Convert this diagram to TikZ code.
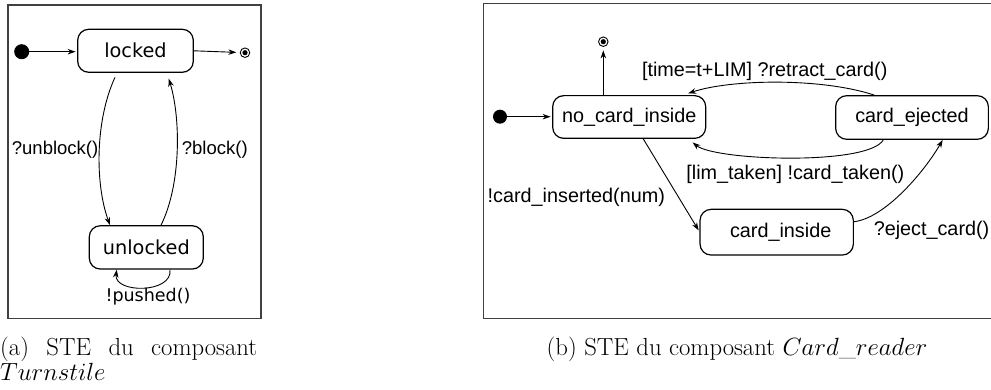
\documentclass[tikz,border=0pt]{standalone}
\usepackage{fontspec}
\newfontfamily\lib{Liberation Sans}
\newfontfamily\dvs{DejaVu Sans}
\usetikzlibrary{arrows.meta}
\begin{document}
\begin{tikzpicture}[x=1pt,y=-1pt,
  state/.style={draw, line width=1.2pt, rounded corners=11pt, inner sep=0pt},
  lstate/.style={state, font=\dvs\fontsize{19.3}{22}\selectfont},
  rstate/.style={state, font=\lib\fontsize{19.8}{22}\selectfont},
  lbl/.style={font=\lib\fontsize{19.8}{22}\selectfont, inner sep=0pt},
  llbl/.style={font=\lib\fontsize{18.5}{22}\selectfont, inner sep=0pt},
  trans/.style={line width=0.9pt, -{Stealth[length=8pt,width=5.5pt]}},
  panel/.style={draw=black!75, line width=1.3pt},
  initdot/.style={circle, fill=black, inner sep=0pt},
  finalst/.style={circle, draw, line width=0.9pt, minimum size=9.5pt, inner sep=0pt,
    path picture={\fill (path picture bounding box.center) circle (2.6pt);}},
  capt/.style={font=\fontsize{24.7}{25.5}\selectfont, inner sep=0pt}
]
\useasboundingbox (0,0) rectangle (991,390);
% ---------- panel (a)
\draw[panel] (8,5) rectangle (261,318.3);
\node[initdot, minimum size=15pt] (i1) at (21.7,51.7) {};
\node[lstate, minimum width=115.6pt, minimum height=43pt] (locked) at (135.5,50.8) {locked};
\node[finalst] (f1) at (245,52.7) {};
\node[lstate, minimum width=114pt, minimum height=43.3pt] (unlocked) at (146.3,247.4) {unlocked};

\draw[trans, shorten >=1.5pt] (i1) -- (i1 -| locked.west);
\draw[trans, shorten >=3.5pt] (locked.east) -- (f1);
\draw[trans, shorten <=5pt] ([xshift=-18.5pt]locked.south) .. controls +(-22,48) and +(-15,-41) .. ([xshift=-36.3pt]unlocked.north);
\draw[trans, shorten >=6pt] ([xshift=14.7pt]unlocked.north) .. controls +(20,-40) and +(14,46) .. ([xshift=31.5pt]locked.south);
\draw[trans] ([xshift=23.7pt]unlocked.south) .. controls +(3,24) and +(-3,24) .. ([xshift=-29.6pt]unlocked.south);

\node[llbl, anchor=west] (lu) at (11.7,149.3) {?unblock()};
\node[llbl, anchor=west] (lb) at (181.7,149.3) {?block()};
\node[font=\dvs\fontsize{17.5}{20}\selectfont, inner sep=0pt] (lp) at (148,296.7) {!pushed()};

% ---------- panel (b)
\draw[panel] (483.3,3.3) rectangle (1010,318.3);
\node[finalst] (f2) at (603.3,41.7) {};
\node[initdot, minimum size=14pt] (i2) at (500,116.7) {};
\node[rstate, minimum width=153pt, minimum height=42.7pt] (nci) at (629.2,117) {no\_card\_inside};
\node[rstate, minimum width=152.7pt, minimum height=43.6pt] (ce) at (912,117.5) {card\_ejected};
\node[rstate, minimum width=153.3pt, minimum height=45.7pt] (ci) at (776.7,232.2) {\hspace*{8pt}card\_inside};

\draw[trans, shorten >=1.5pt] (i2) -- (i2 -| nci.west);
\draw[trans, shorten >=3.5pt] ([xshift=-25.9pt]nci.north) -- (f2);
\draw[trans, shorten >=5pt] ([xshift=-37.7pt]ce.north) .. controls +(-54,-17.7) and +(46.7,-15.7) .. ([xshift=54.1pt]nci.north);
\draw[trans, shorten >=5.5pt] ([xshift=-28.7pt]ce.south) .. controls +(-15,26) and +(26.7,21.7) .. ([xshift=59.1pt]nci.south);
\draw[trans, shorten >=1.5pt] ([xshift=14.1pt]nci.south) -- ([yshift=0.5pt]ci.west);
\draw[trans] ([yshift=10.5pt]ci.east) .. controls +(31.7,-3.7) and +(-17.7,30.7) .. ([xshift=30.7pt]ce.south);

\node[lbl] (lr) at (764.7,71) {[time=t+LIM] ?retract\_card()};
\node[lbl] (lt) at (795.3,174) {[lim\_taken] !card\_taken()};
\node[lbl] (lc) at (576.3,197) {!card\_inserted(num)};
\node[lbl, anchor=east] (le) at (989.5,230) {?eject\_card()};

% ---------- captions
\node[capt, anchor=base west, text width=257pt, align=justify] (ca) at (0,355) {(a) STE du composant\linebreak $Turnstile$};
\node[capt, anchor=base] (cb) at (737,355) {(b) STE du composant $Card\_reader$};
\end{tikzpicture}
\end{document}
